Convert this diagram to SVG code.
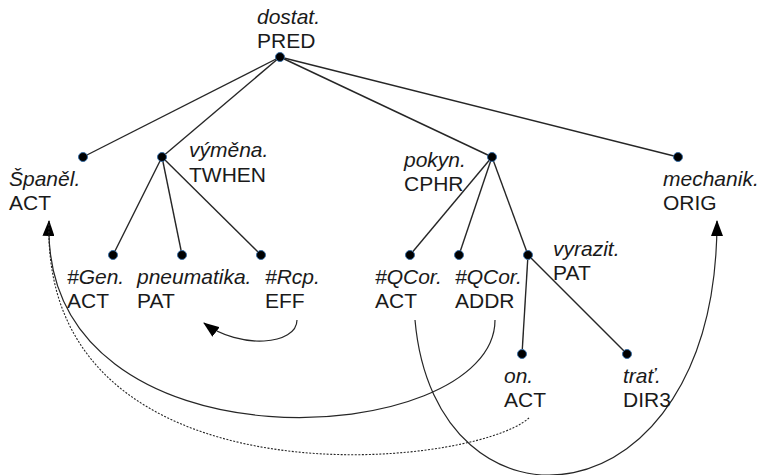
<svg xmlns="http://www.w3.org/2000/svg" width="764" height="475" viewBox="0 0 764 475">
<style>
text{font-family:"Liberation Sans",Arial,sans-serif;font-size:21px;fill:#1a1a1a}
.i{font-style:italic}
.dot{fill:#000;stroke:#3a6ea5;stroke-width:1}
.e{stroke:#262626;stroke-width:1.4;fill:none}
.c{stroke:#262626;stroke-width:1.2;fill:none}
.d{stroke:#262626;stroke-width:1.1;fill:none;stroke-dasharray:2 1.5}
</style>
<defs>
<marker id="ah" markerUnits="userSpaceOnUse" markerWidth="16" markerHeight="12" refX="15" refY="6" orient="auto" viewBox="0 0 16 12">
<path d="M0,0 L16,6 L0,12 z" fill="#000"/>
</marker>
</defs>
<g id="connectors">
<line class="e" x1="280" y1="57" x2="83" y2="157"/>
<line class="e" x1="280" y1="57" x2="162" y2="157"/>
<line class="e" x1="280" y1="57" x2="492" y2="157"/>
<line class="e" x1="280" y1="57" x2="678" y2="157"/>
<line class="e" x1="162" y1="157" x2="113" y2="255"/>
<line class="e" x1="162" y1="157" x2="182" y2="255"/>
<line class="e" x1="162" y1="157" x2="261" y2="255"/>
<line class="e" x1="492" y1="157" x2="410" y2="255"/>
<line class="e" x1="492" y1="157" x2="459" y2="255"/>
<line class="e" x1="492" y1="157" x2="528" y2="255"/>
<line class="e" x1="528" y1="255" x2="522" y2="354"/>
<line class="e" x1="528" y1="255" x2="627" y2="354"/>
<path class="c" d="M297,320 C297,345 240,350 204,323" marker-end="url(#ah)"/>
<path class="c" d="M495,320 C495,450 40,480 49,221" marker-end="url(#ah)"/>
<path class="d" d="M529,418 C470,470 40,510 49,221"/>
<path class="c" d="M415,320 C435,550 717,530 717,221" marker-end="url(#ah)"/>
</g>
<g id="n-dostat"><circle class="dot" cx="280" cy="57" r="4.5"/><text class="i" x="257" y="24">dostat.</text><text x="257" y="48">PRED</text></g>
<g id="n-spanel"><circle class="dot" cx="83" cy="157" r="4.5"/><text class="i" x="9" y="186">Španěl.</text><text x="9" y="210">ACT</text></g>
<g id="n-vymena"><circle class="dot" cx="162" cy="157" r="4.5"/><text class="i" x="189" y="157">výměna.</text><text x="189" y="182">TWHEN</text></g>
<g id="n-pokyn"><circle class="dot" cx="492" cy="157" r="4.5"/><text class="i" x="404" y="167">pokyn.</text><text x="404" y="191">CPHR</text></g>
<g id="n-mechanik"><circle class="dot" cx="678" cy="157" r="4.5"/><text class="i" x="663" y="186">mechanik.</text><text x="663" y="210">ORIG</text></g>
<g id="n-gen"><circle class="dot" cx="113" cy="255" r="4.5"/><text class="i" x="67" y="284">#Gen.</text><text x="67" y="308">ACT</text></g>
<g id="n-pneumatika"><circle class="dot" cx="182" cy="255" r="4.5"/><text class="i" x="137" y="284">pneumatika.</text><text x="137" y="308">PAT</text></g>
<g id="n-rcp"><circle class="dot" cx="261" cy="255" r="4.5"/><text class="i" x="265" y="284">#Rcp.</text><text x="265" y="308">EFF</text></g>
<g id="n-qcor-act"><circle class="dot" cx="410" cy="255" r="4.5"/><text class="i" x="375" y="284">#QCor.</text><text x="375" y="308">ACT</text></g>
<g id="n-qcor-addr"><circle class="dot" cx="459" cy="255" r="4.5"/><text class="i" x="455" y="284">#QCor.</text><text x="455" y="308">ADDR</text></g>
<g id="n-vyrazit"><circle class="dot" cx="528" cy="255" r="4.5"/><text class="i" x="553" y="256">vyrazit.</text><text x="553" y="280">PAT</text></g>
<g id="n-on"><circle class="dot" cx="522" cy="354" r="4.5"/><text class="i" x="504" y="383">on.</text><text x="504" y="407">ACT</text></g>
<g id="n-trat"><circle class="dot" cx="627" cy="354" r="4.5"/><text class="i" x="623" y="383">trať.</text><text x="623" y="407">DIR3</text></g>
</svg>
